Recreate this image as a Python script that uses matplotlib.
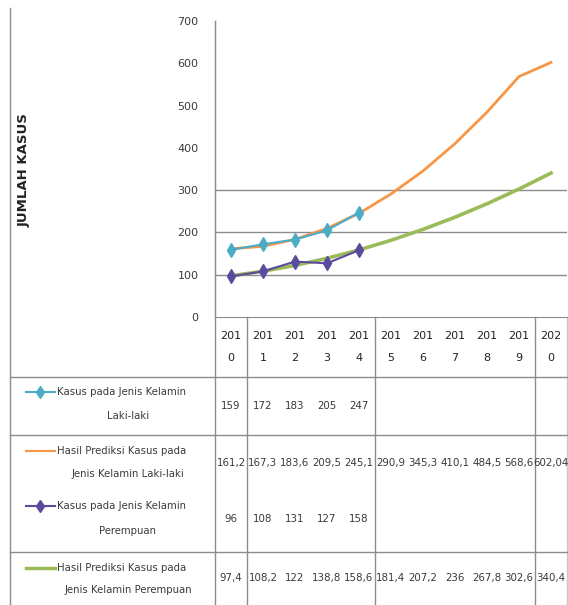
import matplotlib
matplotlib.use("Agg")
import matplotlib.pyplot as plt

years = [2010, 2011, 2012, 2013, 2014, 2015, 2016, 2017, 2018, 2019, 2020]
kasus_laki = [159, 172, 183, 205, 247]
prediksi_laki = [161.2, 167.3, 183.6, 209.5, 245.1, 290.9, 345.3, 410.1, 484.5, 568.6, 602.04]
kasus_perempuan = [96, 108, 131, 127, 158]
prediksi_perempuan = [97.4, 108.2, 122, 138.8, 158.6, 181.4, 207.2, 236, 267.8, 302.6, 340.4]
series_labels = ["Kasus pada Jenis Kelamin\nLaki-laki",
                 "Hasil Prediksi Kasus pada\nJenis Kelamin Laki-laki",
                 "Kasus pada Jenis Kelamin\nPerempuan",
                 "Hasil Prediksi Kasus pada\nJenis Kelamin Perempuan"]
yticks = [0, 100, 200, 300, 400, 500, 600, 700]

W, H = 568, 605
c_teal, c_orange, c_purple, c_green = "#4bacc6", "#f79646", "#5b4a9e", "#9bbb59"
grid_c = "#8c8c8c"
txt_c = "#3a3a3a"
plt.rcParams['font.family'] = ['DejaVu Sans']

fig = plt.figure(figsize=(W / 100, H / 100), dpi=100)
fig.patch.set_facecolor("white")

# overlay in pixel coords for the data table and borders
tb = fig.add_axes([0, 0, 1, 1])
tb.set_xlim(0, W); tb.set_ylim(H, 0); tb.axis("off")

col_left, col_right = 215, 567
col_w = (col_right - col_left) / len(years)

# chart axes
ax = fig.add_axes([col_left / W, 1 - 317 / H, (col_right - col_left) / W, (317 - 21) / H])
ax.set_facecolor("none")
x = list(range(len(years)))
ax.plot(x, prediksi_laki, color=c_orange, lw=2, zorder=3)
ax.plot(x, prediksi_perempuan, color=c_green, lw=2.6, zorder=3)
ax.plot(x[:len(kasus_laki)], kasus_laki, color=c_teal, lw=1.5, marker="d", ms=7, zorder=4)
ax.plot(x[:len(kasus_perempuan)], kasus_perempuan, color=c_purple, lw=1.5, marker="d", ms=7, zorder=4)
ax.set_xlim(-0.5, len(years) - 0.5)
ax.set_ylim(0, 700)
ax.set_yticks(yticks)
ax.set_yticklabels([str(v) for v in yticks], fontsize=8, color=txt_c)
ax.tick_params(axis="y", length=0, pad=12)
ax.set_xticks([])
for v in [100, 200, 300]:
    ax.axhline(v, color=grid_c, lw=1, zorder=1)
for s in ["top", "right"]:
    ax.spines[s].set_visible(False)
for s in ["left", "bottom"]:
    ax.spines[s].set_color(grid_c)

# y label
fig.text(24 / W, 1 - 170 / H, "JUMLAH KASUS", rotation=90, ha="center", va="center",
         fontsize=9.5, fontweight="bold", color="#222222")

# table lines
lk = dict(color=grid_c, lw=1)
tb.plot([10, 10], [8, H], **lk)
tb.plot([col_left, col_left], [21, H], **lk)
for xi in [col_left + col_w, col_left + 5 * col_w, col_left + 10 * col_w]:
    tb.plot([xi, xi], [317, H], **lk)
tb.plot([col_right, col_right], [317, H], color="#c8c8c8", lw=1)
for yi in [377, 435, 552]:
    tb.plot([10, col_right], [yi, yi], **lk)

# header years
for i, yr in enumerate(years):
    cx = col_left + (i + 0.5) * col_w
    s = str(yr)
    tb.text(cx, 336, s[:3], ha="center", va="center", fontsize=8, color="#222222")
    tb.text(cx, 358, s[3:], ha="center", va="center", fontsize=8, color="#222222")

# rows
rows = [
    (kasus_laki, c_teal, "d", 1.5, 392, 416, 406),
    (prediksi_laki, c_orange, None, 1.5, 451, 474, 463),
    (kasus_perempuan, c_purple, "d", 1.5, 506, 531, 519),
    (prediksi_perempuan, c_green, None, 2.5, 568, 590, 578),
]

def fmt(v):
    return f"{v:g}".replace(".", ",")

for (vals, col, mk, lw, y1, y2, yv), lab in zip(rows, series_labels):
    first, second = lab.split("\n")
    tb.plot([26, 55], [y1, y1], color=col, lw=lw)
    if mk:
        tb.plot([40], [y1], color=col, marker=mk, ms=6)
    tb.text(57, y1, first, ha="left", va="center", fontsize=7.3, color=txt_c)
    tb.text(128, y2, second, ha="center", va="center", fontsize=7.3, color=txt_c)
    for i, v in enumerate(vals):
        cx = col_left + (i + 0.5) * col_w
        tb.text(cx, yv, fmt(v), ha="center", va="center", fontsize=7.4, color=txt_c)

fig.savefig("out.png", dpi=100)
